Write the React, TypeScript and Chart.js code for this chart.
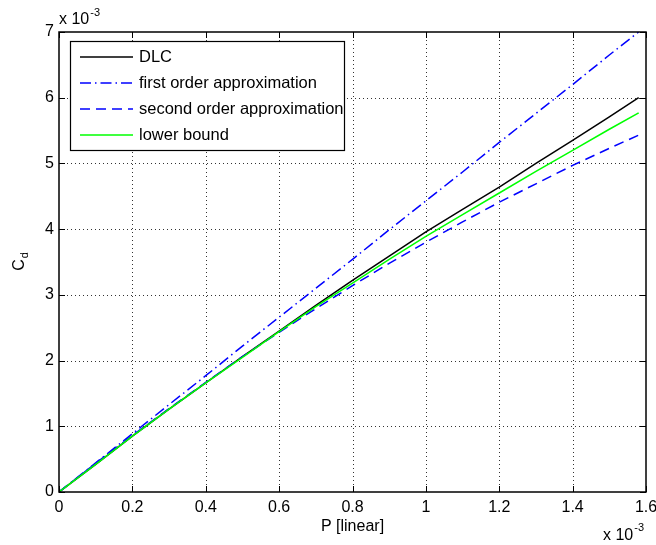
import React, { useEffect, useRef } from "react";
import { Chart, registerables } from "chart.js";
Chart.register(...registerables);

// P in units of 1e-3
const P = [0, 0.1, 0.2, 0.3, 0.4, 0.5, 0.6, 0.7, 0.8, 0.9, 1.0, 1.1, 1.2, 1.3, 1.4, 1.5, 1.58];
// Cd in units of 1e-3
const dlc = [0, 0.42, 0.85, 1.26, 1.66, 2.06, 2.45, 2.84, 3.22, 3.59, 3.96, 4.3, 4.64, 5.0, 5.35, 5.71, 6.0];
const firstOrder = [0, 0.443, 0.886, 1.33, 1.77, 2.22, 2.66, 3.1, 3.54, 3.99, 4.43, 4.87, 5.32, 5.76, 6.2, 6.65, 7.0];
const secondOrder = [0, 0.437, 0.861, 1.27, 1.67, 2.06, 2.43, 2.79, 3.14, 3.48, 3.8, 4.11, 4.41, 4.69, 4.97, 5.23, 5.43];
const lowerBound = [0, 0.42, 0.85, 1.26, 1.66, 2.05, 2.44, 2.82, 3.18, 3.54, 3.89, 4.22, 4.55, 4.88, 5.2, 5.52, 5.77];

const xTicks = [0, 0.2, 0.4, 0.6, 0.8, 1.0, 1.2, 1.4, 1.6];
const xTickLabels = ["0", "0.2", "0.4", "0.6", "0.8", "1", "1.2", "1.4", "1.6"];
const yTicks = [0, 1, 2, 3, 4, 5, 6, 7];
const yTickLabels = ["0", "1", "2", "3", "4", "5", "6", "7"];

const seriesNames = ["DLC", "first order approximation", "second order approximation", "lower bound"];
const seriesColors = ["#000000", "#0000ff", "#0000ff", "#00ff00"];
const seriesDashes: number[][] = [[], [11, 4, 1.5, 4], [10, 6], []];

const xTitle = "P [linear]";
const yTitleMain = "C";
const yTitleSub = "d";
const expBase = "x 10";
const expPow = "-3";

const FONT = "'Liberation Sans', Arial, Helvetica, sans-serif";

function toPoints(ys: number[]) {
  return P.map((x, i) => ({ x, y: ys[i] }));
}

const matlabPlugin = {
  id: "matlabAxes",
  beforeDraw(chart: any) {
    const ctx = chart.ctx;
    ctx.save();
    ctx.fillStyle = "#ffffff";
    ctx.fillRect(0, 0, chart.width, chart.height);
    ctx.restore();
  },
  beforeDatasetsDraw(chart: any) {
    const ctx = chart.ctx;
    const { left, right, top, bottom } = chart.chartArea;
    const xs = chart.scales.x;
    const ys = chart.scales.y;
    ctx.save();
    ctx.strokeStyle = "#333333";
    ctx.lineWidth = 1;
    ctx.setLineDash([1, 3]);
    xTicks.forEach((t) => {
      const px = Math.round(xs.getPixelForValue(t)) + 0.5;
      if (px - left < 2 || right - px < 2) return;
      ctx.beginPath();
      ctx.moveTo(px, top);
      ctx.lineTo(px, bottom);
      ctx.stroke();
    });
    yTicks.forEach((t) => {
      const py = Math.round(ys.getPixelForValue(t)) + 0.5;
      if (py - top < 2 || bottom - py < 2) return;
      ctx.beginPath();
      ctx.moveTo(left, py);
      ctx.lineTo(right, py);
      ctx.stroke();
    });
    ctx.restore();
  },
  afterDraw(chart: any) {
    const ctx = chart.ctx;
    const { left, right, top, bottom } = chart.chartArea;
    const xs = chart.scales.x;
    const ys = chart.scales.y;
    ctx.save();
    // box
    ctx.strokeStyle = "#000";
    ctx.lineWidth = 1.5;
    ctx.setLineDash([]);
    ctx.strokeRect(left, top, right - left, bottom - top);
    // ticks inward
    const tl = 6;
    ctx.lineWidth = 1;
    xTicks.forEach((t) => {
      const px = Math.round(xs.getPixelForValue(t)) + 0.5;
      ctx.beginPath();
      ctx.moveTo(px, bottom);
      ctx.lineTo(px, bottom - tl);
      ctx.moveTo(px, top);
      ctx.lineTo(px, top + tl);
      ctx.stroke();
    });
    yTicks.forEach((t) => {
      const py = Math.round(ys.getPixelForValue(t)) + 0.5;
      ctx.beginPath();
      ctx.moveTo(left, py);
      ctx.lineTo(left + tl, py);
      ctx.moveTo(right, py);
      ctx.lineTo(right - tl, py);
      ctx.stroke();
    });
    // tick labels
    ctx.fillStyle = "#000";
    ctx.font = `16px ${FONT}`;
    ctx.textAlign = "center";
    ctx.textBaseline = "middle";
    xTicks.forEach((t, i) => {
      ctx.fillText(xTickLabels[i], xs.getPixelForValue(t), bottom + 16);
    });
    ctx.textAlign = "right";
    yTicks.forEach((t, i) => {
      ctx.fillText(yTickLabels[i], left - 5, ys.getPixelForValue(t));
    });
    // x title
    ctx.textAlign = "center";
    ctx.fillText(xTitle, (left + right) / 2, bottom + 35);
    // y title
    ctx.save();
    ctx.translate(20, (top + bottom) / 2);
    ctx.rotate(-Math.PI / 2);
    ctx.font = `16px ${FONT}`;
    const wC = ctx.measureText(yTitleMain).width;
    ctx.font = `11px ${FONT}`;
    const wd = ctx.measureText(yTitleSub).width;
    const start = -(wC + wd) / 2;
    ctx.textAlign = "left";
    ctx.textBaseline = "middle";
    ctx.font = `16px ${FONT}`;
    ctx.fillText(yTitleMain, start, 0);
    ctx.font = `11px ${FONT}`;
    ctx.fillText(yTitleSub, start + wC + 1, 5);
    ctx.restore();
    // exponent labels
    ctx.textAlign = "left";
    ctx.textBaseline = "alphabetic";
    ctx.font = `16px ${FONT}`;
    ctx.fillText(expBase, left, 24);
    let w = ctx.measureText(expBase).width;
    ctx.font = `11px ${FONT}`;
    ctx.fillText(expPow, left + w + 1, 16);
    ctx.font = `16px ${FONT}`;
    ctx.fillText(expBase, 603, 540);
    w = ctx.measureText(expBase).width;
    ctx.font = `11px ${FONT}`;
    ctx.fillText(expPow, 603 + w + 1, 531);
    // legend
    const lx = 70.5, ly = 41.5, lw = 274, lh = 109;
    ctx.fillStyle = "#fff";
    ctx.fillRect(lx, ly, lw, lh);
    ctx.strokeStyle = "#000";
    ctx.lineWidth = 1.2;
    ctx.strokeRect(lx, ly, lw, lh);
    ctx.font = `16.5px ${FONT}`;
    ctx.textBaseline = "middle";
    seriesNames.forEach((name, i) => {
      const y = 57 + i * 26;
      ctx.strokeStyle = seriesColors[i];
      ctx.lineWidth = 1.5;
      ctx.setLineDash(seriesDashes[i]);
      ctx.beginPath();
      ctx.moveTo(80, y);
      ctx.lineTo(133, y);
      ctx.stroke();
      ctx.setLineDash([]);
      ctx.fillStyle = "#000";
      ctx.fillText(name, 139, y);
    });
    ctx.restore();
  },
};

export default function App() {
  const ref = useRef<HTMLCanvasElement | null>(null);
  useEffect(() => {
    if (!ref.current) return;
    const series = [dlc, firstOrder, secondOrder, lowerBound];
    const chart = new Chart(ref.current, {
      type: "line",
      data: {
        datasets: series.map((s, i) => ({
          label: seriesNames[i],
          data: toPoints(s),
          borderColor: seriesColors[i],
          borderWidth: 1.5,
          borderDash: seriesDashes[i],
          pointRadius: 0,
          fill: false,
          tension: 0,
          order: 3 - i,
        })),
      },
      options: {
        responsive: false,
        animation: false,
        devicePixelRatio: 1,
        layout: { padding: { left: 59, right: 10, top: 32, bottom: 53 } },
        plugins: { legend: { display: false }, tooltip: { enabled: false } },
        scales: {
          x: {
            type: "linear",
            min: 0,
            max: 1.6,
            ticks: { display: false },
            grid: { display: false },
            border: { display: false },
            afterFit: (s: any) => { s.height = 0; },
          },
          y: {
            type: "linear",
            min: 0,
            max: 7,
            ticks: { display: false },
            grid: { display: false },
            border: { display: false },
            afterFit: (s: any) => { s.width = 0; },
          },
        },
      },
      plugins: [matlabPlugin],
    } as any);
    return () => chart.destroy();
  }, []);
  return (
    <div style={{ position: "fixed", left: 0, top: 0, width: 656, height: 545, background: "#fff" }}>
      <canvas ref={ref} width={656} height={545} style={{ width: 656, height: 545, display: "block" }} />
    </div>
  );
}
